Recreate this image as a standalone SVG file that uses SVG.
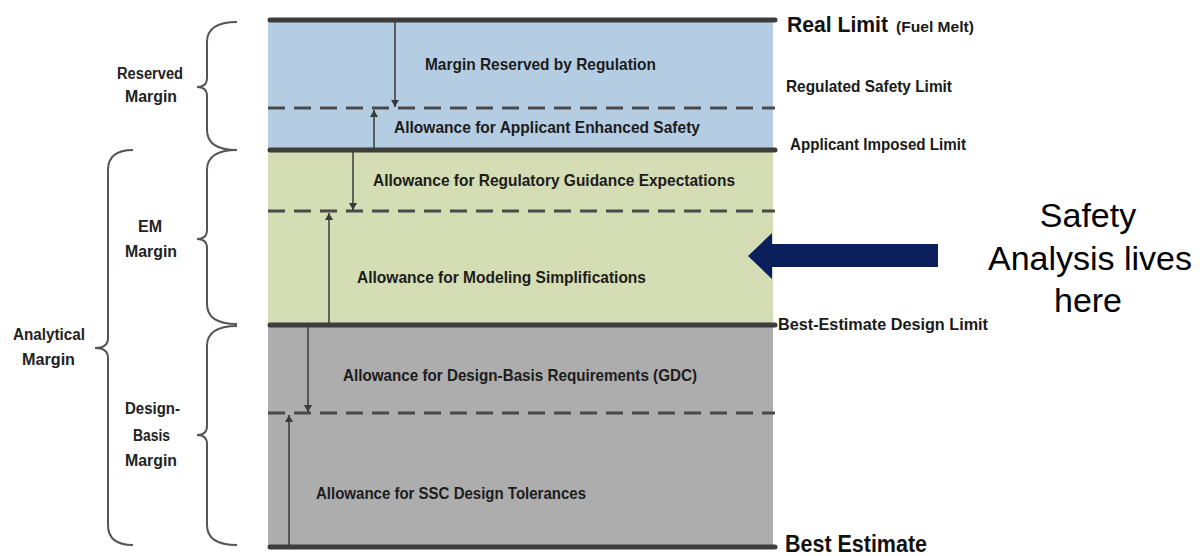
<svg xmlns="http://www.w3.org/2000/svg" width="1202" height="556" viewBox="0 0 1202 556">
<style>
text{font-family:"Liberation Sans",Arial,sans-serif;fill:#1a1a1a}
.lab{font-size:16px;font-weight:bold;fill:#222}
.box{font-size:16.5px;font-weight:bold;fill:#1c1c1c}
.lim{font-size:16.5px;font-weight:bold}
.big{font-size:23px;font-weight:bold;fill:#111}
.safe{font-size:34px;fill:#000}
.solid{stroke:#3d3d3d;stroke-width:5;stroke-linecap:round;fill:none}
.dash{stroke:#4a4a4a;stroke-width:3;stroke-dasharray:17 9;fill:none}
.arr{stroke:#3a3a3a;stroke-width:1.5;fill:none;marker-end:url(#ah)}
.brace{stroke:#555;stroke-width:2;fill:none}
</style>
<defs>
<marker id="ah" viewBox="0 0 10 10" refX="10" refY="5" markerWidth="7" markerHeight="8" markerUnits="userSpaceOnUse" orient="auto" preserveAspectRatio="none">
<path d="M0,0 L10,5 L0,10 Z" fill="#3a3a3a"/>
</marker>
</defs>
<rect width="1202" height="556" fill="#fff"/>
<g id="bands">
<rect x="268" y="20" width="505" height="130" fill="#b4cde3"/>
<rect x="268" y="150" width="505" height="175" fill="#d4ddb3"/>
<rect x="268" y="325" width="505" height="222" fill="#adadad"/>
</g>
<g id="limits">
<line class="solid" x1="270" y1="20" x2="775" y2="20"/>
<line class="dash" x1="268" y1="108" x2="775" y2="108"/>
<line class="solid" x1="270" y1="150" x2="775" y2="150"/>
<line class="dash" x1="268" y1="211" x2="775" y2="211"/>
<line class="solid" x1="270" y1="325" x2="775" y2="325"/>
<line class="dash" x1="268" y1="413" x2="775" y2="413"/>
<line class="solid" x1="270" y1="547" x2="775" y2="547"/>
</g>
<g id="connectors">
<line class="arr" x1="395" y1="22" x2="395" y2="107"/>
<line class="arr" x1="374" y1="148" x2="374" y2="110"/>
<line class="arr" x1="353" y1="152" x2="353" y2="210"/>
<line class="arr" x1="329" y1="323" x2="329" y2="213"/>
<line class="arr" x1="308" y1="327" x2="308" y2="412"/>
<line class="arr" x1="289" y1="545" x2="289" y2="415"/>
</g>
<g id="brace-reserved">
<path class="brace" d="M237,22 Q207,22 207,42 L207,78 Q207,87 197,87 Q207,87 207,96 L207,130 Q207,150 237,150"/>
<text class="lab" x="117" y="79" textLength="66" lengthAdjust="spacingAndGlyphs">Reserved</text>
<text class="lab" x="125" y="102" textLength="52" lengthAdjust="spacingAndGlyphs">Margin</text>
</g>
<g id="brace-em">
<path class="brace" d="M237,150 Q207,150 207,170 L207,230 Q207,239 197,239 Q207,239 207,248 L207,304 Q207,324 237,324"/>
<text class="lab" x="138" y="232" textLength="24" lengthAdjust="spacingAndGlyphs">EM</text>
<text class="lab" x="125" y="257" textLength="52" lengthAdjust="spacingAndGlyphs">Margin</text>
</g>
<g id="brace-design">
<path class="brace" d="M237,326 Q207,326 207,346 L207,426 Q207,435 197,435 Q207,435 207,444 L207,525 Q207,545 237,545"/>
<text class="lab" x="125" y="414" textLength="55" lengthAdjust="spacingAndGlyphs">Design-</text>
<text class="lab" x="133" y="441" textLength="37" lengthAdjust="spacingAndGlyphs">Basis</text>
<text class="lab" x="125" y="466" textLength="52" lengthAdjust="spacingAndGlyphs">Margin</text>
</g>
<g id="brace-analytical">
<path class="brace" d="M133,150 Q108,150 108,170 L108,338 Q108,348 95,348 Q108,348 108,358 L108,525 Q108,545 133,545"/>
<text class="lab" x="13" y="340" textLength="72" lengthAdjust="spacingAndGlyphs">Analytical</text>
<text class="lab" x="22" y="365" textLength="53" lengthAdjust="spacingAndGlyphs">Margin</text>
</g>
<g id="box-texts">
<text class="box" x="425" y="70" textLength="231" lengthAdjust="spacingAndGlyphs">Margin Reserved by Regulation</text>
<text class="box" x="394" y="133" textLength="306" lengthAdjust="spacingAndGlyphs">Allowance for  Applicant  Enhanced Safety</text>
<text class="box" x="373" y="186" textLength="362" lengthAdjust="spacingAndGlyphs">Allowance for Regulatory Guidance Expectations</text>
<text class="box" x="357" y="283" textLength="289" lengthAdjust="spacingAndGlyphs">Allowance for Modeling Simplifications</text>
<text class="box" x="343" y="381" textLength="354" lengthAdjust="spacingAndGlyphs">Allowance for Design-Basis Requirements (GDC)</text>
<text class="box" x="316" y="499" textLength="270" lengthAdjust="spacingAndGlyphs">Allowance for SSC Design Tolerances</text>
</g>
<g id="limit-labels">
<text class="big" x="787" y="32" font-size="22" style="font-size:22px" textLength="101" lengthAdjust="spacingAndGlyphs">Real Limit</text>
<text x="896" y="32" font-size="14" font-weight="bold" fill="#111" textLength="78" lengthAdjust="spacingAndGlyphs">(Fuel Melt)</text>
<text class="lim" x="786" y="92" textLength="166" lengthAdjust="spacingAndGlyphs">Regulated Safety Limit</text>
<text class="lim" x="790" y="150" textLength="176" lengthAdjust="spacingAndGlyphs">Applicant Imposed Limit</text>
<text class="lim" x="778" y="330" textLength="210" lengthAdjust="spacingAndGlyphs">Best-Estimate Design Limit</text>
<text class="big" x="785" y="552" textLength="142" lengthAdjust="spacingAndGlyphs">Best Estimate</text>
</g>
<g id="safety-callout">
<path d="M938,244 L772,244 L772,233 L748,256 L772,279 L772,267 L938,267 Z" fill="#0a1f5c"/>
<text class="safe" x="1088" y="227" text-anchor="middle">Safety</text>
<text class="safe" x="1090" y="270" text-anchor="middle">Analysis lives</text>
<text class="safe" x="1088" y="312" text-anchor="middle">here</text>
</g>
</svg>
